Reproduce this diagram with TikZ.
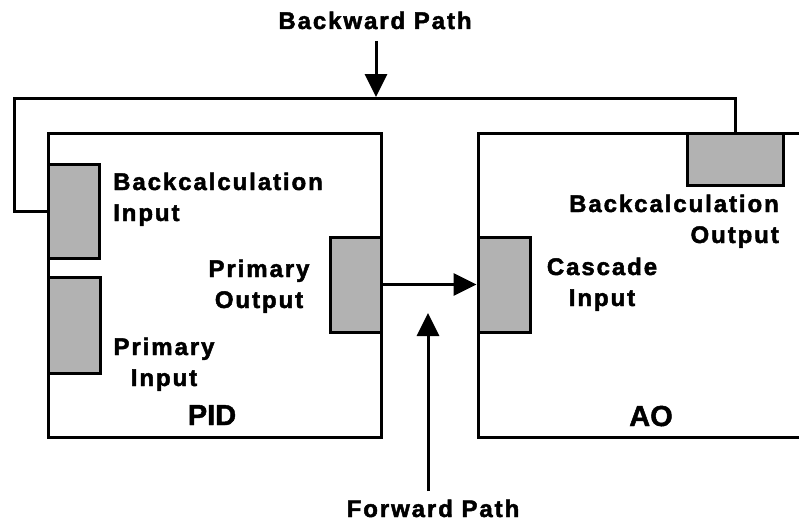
\documentclass[tikz,border=0pt]{standalone}
\usepackage{fontspec}
\setmainfont{Liberation Sans}
\newfontfamily\lblfont{Liberation Sans}[LetterSpace=8,FakeBold=2,UprightFont={* Bold},BoldFont={* Bold}]
\newfontfamily\bigfont{Liberation Sans}[FakeBold=1.5,UprightFont={* Bold},BoldFont={* Bold}]
\usetikzlibrary{arrows.meta}
\begin{document}
\begin{tikzpicture}[x=1pt,y=-1pt,
  blockbox/.style={draw=black,line width=3pt,fill=white,rectangle,inner sep=0pt},
  portbox/.style={draw=black,line width=3pt,fill=black!30,rectangle,inner sep=0pt},
  conn/.style={draw=black,line width=3pt},
  arr/.style={draw=black,line width=3pt,-{Triangle[width=22pt,length=23pt]}},
  lbl/.style={font=\lblfont\fontsize{24}{31}\selectfont,inner sep=0pt},
  biglbl/.style={font=\bigfont\fontsize{29}{34}\selectfont,inner sep=0pt}]
\clip (0,0) rectangle (799,527);
\fill[white] (0,0) rectangle (799,527);
% blocks
\node[blockbox,minimum width=333pt,minimum height=304pt] (pid) at (214.5,285) {};
\node[blockbox,minimum width=352pt,minimum height=304pt] (ao) at (654,285) {};
% ports
\node[portbox,minimum width=51pt,minimum height=94pt] (bci) at (73.5,211) {};
\node[portbox,minimum width=52pt,minimum height=96pt] (pin) at (74,325) {};
\node[portbox,minimum width=51pt,minimum height=95pt] (pout) at (355.5,284.5) {};
\node[portbox,minimum width=52pt,minimum height=95pt] (cin) at (504,284.5) {};
\node[portbox,minimum width=96pt,minimum height=52pt] (bco) at (735,159) {};
% backward loop
\coordinate (loopcorner) at (14,98);
\draw[conn,line join=miter] (bco.north) -- (bco.north |- loopcorner) -- (loopcorner) |- (bci.west);
% forward connection
\draw[arr] (pout.east) -- (cin.west);
% path pointers
\coordinate (bwTail) at (376,41);
\coordinate (bwTip) at (376,97);
\draw[arr] (bwTail) -- (bwTip);
\coordinate (fwTail) at (428,491);
\coordinate (fwTip) at (428,313);
\draw[arr] (fwTail) -- (fwTip);
% labels
\node[lbl,anchor=base] (bwlabel) at (375,29) {Backward Path};
\node[lbl,anchor=base] (fwlabel) at (433,517) {Forward Path};
\node[biglbl,anchor=base] (pidlabel) at (212,425) {PID};
\node[biglbl,anchor=base] (aolabel) at (651,426) {AO};
\node[lbl,anchor=base west,align=left] (bcilabel) at (113,221) {Backcalculation\\Input};
\node[lbl,anchor=base,align=center] (poutlabel) at (259,308) {Primary\\Output};
\node[lbl,anchor=base,align=center] (pinlabel) at (164,386) {Primary\\Input};
\node[lbl,anchor=base,align=center] (cinlabel) at (602,306) {Cascade\\Input};
\node[lbl,anchor=base east,align=right] (bcolabel) at (779,243) {Backcalculation\\Output};
\end{tikzpicture}
\end{document}
